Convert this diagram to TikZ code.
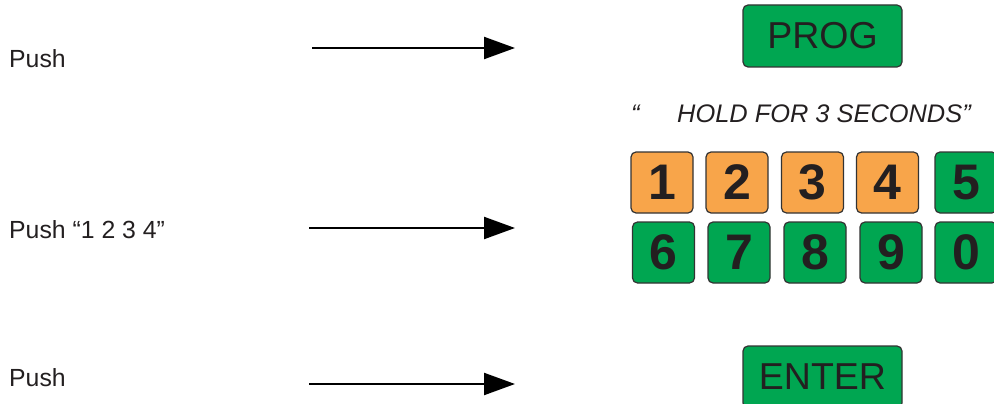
\documentclass[tikz,border=0pt]{standalone}
\usepackage{fontspec}
\setmainfont{Liberation Sans}
\usetikzlibrary{arrows.meta, positioning}
\definecolor{KeyGreen}{HTML}{00A651}
\definecolor{KeyOrange}{HTML}{F8A54A}
\definecolor{Rim}{HTML}{333333}
\definecolor{Ink}{HTML}{231F20}

\begin{document}
\begin{tikzpicture}[x=1pt, y=-1pt,
    every node/.style={text=Ink, inner sep=0pt},
    key/.style={draw=Rim, line width=1.2pt, rounded corners=5pt,
      minimum width=62pt, minimum height=61pt,
      font=\fontsize{50}{50}\selectfont\bfseries},
    widekey/.style={key, fill=KeyGreen, minimum width=159pt, minimum height=62pt,
      font=\fontsize{37.5}{38}\selectfont},
    hint/.style={anchor=base west, font=\fontsize{24.8}{28}\selectfont},
    pointer/.style={line width=2.2pt, -{Triangle[length=31pt, width=22pt]}}]
  \useasboundingbox (0,0) rectangle (994,404);
  % Instructions
  \node[hint] (push1) at (9,68) {Push};
  \node[hint] (push2) at (9,238) {Push “1 2 3 4”};
  \node[hint] (push3) at (9,386) {Push};
  % Arrows
  \coordinate (a1) at (312,48);  \coordinate (b1) at (515,48);
  \coordinate (a2) at (309,228); \coordinate (b2) at (515,228);
  \coordinate (a3) at (309,384); \coordinate (b3) at (515,384);
  \foreach \i in {1,2,3}
    \draw[pointer] (a\i) -- (b\i);
  % Program key
  \node[widekey] (prog) at (822.5,36) {PROG};
  \node[hint, font=\fontsize{25.4}{28}\selectfont\itshape] (quote) at (631,122) {“};
  \node[hint, font=\fontsize{25.4}{28}\selectfont\itshape] (hold) at (677,122) {HOLD FOR 3 SECONDS”};
  % Keypad, top row
  \foreach \x/\d in {662/1, 737/2, 812.5/3, 887.5/4}
    \node[key, fill=KeyOrange] (k\d) at (\x,182.5) {\d};
  \node[key, fill=KeyGreen] (k5) at (966,182.5) {5};
  % Keypad, bottom row
  \foreach \x/\d in {663.5/6, 739/7, 815/8, 891/9, 966/0}
    \node[key, fill=KeyGreen] (k\d) at (\x,252.5) {\d};
  % Enter key
  \node[widekey] (enter) at (822.5,377) {ENTER};
\end{tikzpicture}
\end{document}
